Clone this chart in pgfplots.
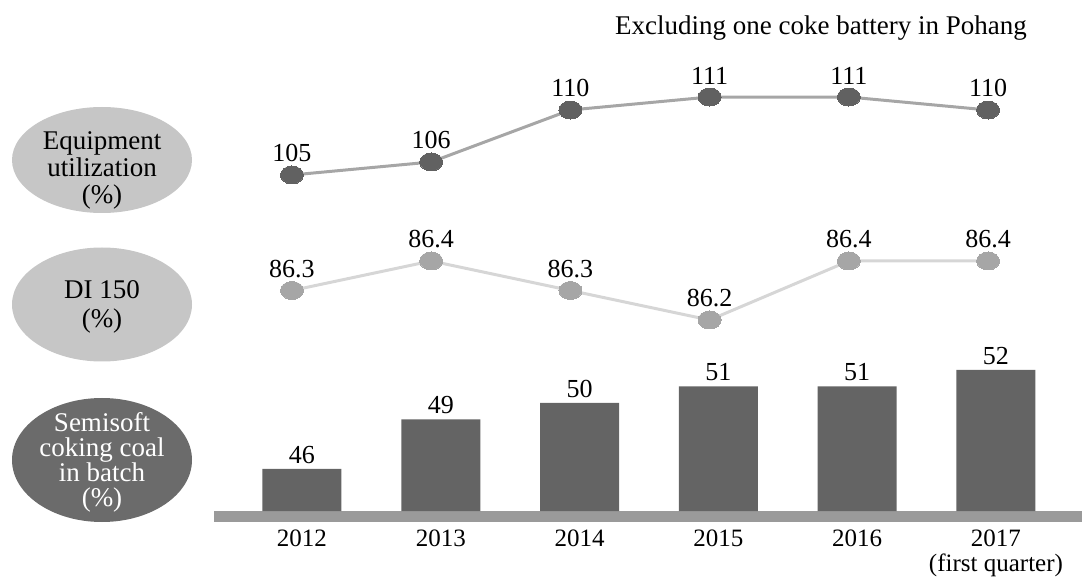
\documentclass[border=0pt]{standalone}
\usepackage{fontspec}
\setmainfont{Liberation Serif}
\usepackage{pgfplots}
\pgfplotsset{compat=1.18}
\pgfplotsset{/pgf/number format/assume math mode=true}
\definecolor{topline}{HTML}{A6A6A6}
\definecolor{topmark}{HTML}{616161}
\definecolor{midline}{HTML}{D6D6D6}
\definecolor{midmark}{HTML}{A6A6A6}
\definecolor{ellA}{HTML}{C6C6C6}
\definecolor{ellC}{HTML}{6B6B6B}
\definecolor{barc}{HTML}{646464}
\definecolor{band}{HTML}{9A9A9A}
\newcommand{\numfont}{\fontsize{26}{23}\selectfont}
\newcommand{\txtfont}{\fontsize{27}{27}\selectfont}
\begin{document}
\begin{tikzpicture}[x=1pt,y=1pt]
\useasboundingbox (0,0) rectangle (1082,579);
% side labels
\fill[ellA] (102,419) ellipse [x radius=90pt, y radius=53pt];
\node[align=center, font=\fontsize{27}{27}\selectfont, text=black] at (102,409) {Equipment\\utilization\\(\%)};
\fill[ellA] (102,274.5) ellipse [x radius=90pt, y radius=57pt];
\node[align=center, font=\fontsize{27}{29}\selectfont, text=black] at (102,272) {DI 150\\(\%)};
\fill[ellC] (102,119) ellipse [x radius=90pt, y radius=62pt];
\node[align=center, font=\fontsize{27}{25}\selectfont, text=white] at (102,117) {Semisoft\\coking coal\\in batch\\(\%)};
% note
\node[font=\txtfont] at (821,551) {Excluding one coke battery in Pohang};
% band
\fill[band] (214,57) rectangle (1082,68);
% bars
\begin{axis}[at={(214pt,68pt)}, anchor=south west, scale only axis,
  width=868pt, height=170pt,
  xmin=-0.634, xmax=5.620, ymin=43.45, ymax=53.75,
  axis line style={draw=none}, ytick=\empty,
  xtick={0,1,2,3,4,5},
  xticklabels={2012,2013,2014,2015,2016,{2017\\(first quarter)}},
  major tick length=0pt,
  xticklabel style={font=\fontsize{25}{25}\selectfont, align=center, anchor=north, inner sep=0pt, yshift=-19pt},
  ybar, bar width=79pt]
\addplot[fill=barc, draw=none, nodes near coords,
  nodes near coords style={font=\numfont, text=black, anchor=south, inner sep=0pt, yshift=5pt}]
  coordinates {(0,46) (1,49) (2,50) (3,51) (4,51) (5,52)};
\end{axis}
% DI 150
\begin{axis}[at={(214pt,229.5pt)}, anchor=south west, scale only axis,
  width=868pt, height=118pt,
  xmin=-0.560, xmax=5.675, ymin=86.1, ymax=86.5,
  hide axis, clip=false]
\addplot[color=midline, line width=3pt, mark=*, mark size=9pt,
  mark options={xscale=1.28, fill=midmark, draw=midmark, line width=0pt},
  nodes near coords,
  nodes near coords style={font=\numfont, text=black, anchor=south, inner sep=0pt, yshift=13pt}]
  coordinates {(0,86.3) (1,86.4) (2,86.3) (3,86.2) (4,86.4) (5,86.4)};
\end{axis}
% Equipment utilization
\begin{axis}[at={(214pt,391pt)}, anchor=south west, scale only axis,
  width=868pt, height=104pt,
  xmin=-0.560, xmax=5.675, ymin=104, ymax=112,
  hide axis, clip=false]
\addplot[color=topline, line width=3pt, mark=*, mark size=9pt,
  mark options={xscale=1.28, fill=topmark, draw=topmark, line width=0pt},
  nodes near coords,
  nodes near coords style={font=\numfont, text=black, anchor=south, inner sep=0pt, yshift=13pt}]
  coordinates {(0,105) (1,106) (2,110) (3,111) (4,111) (5,110)};
\end{axis}
\end{tikzpicture}
\end{document}
